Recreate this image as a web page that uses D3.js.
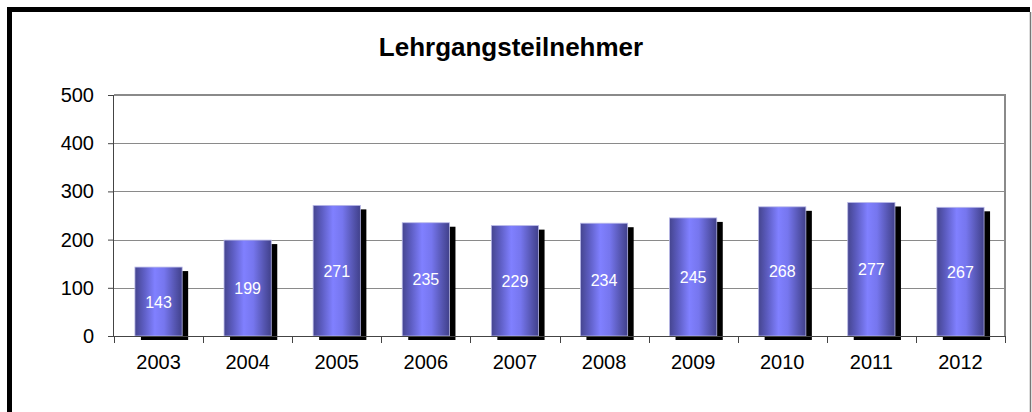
<!DOCTYPE html>
<html>
<head>
<meta charset="utf-8">
<script src="https://cdn.jsdelivr.net/npm/d3@7/dist/d3.min.js"></script>
<style>
  html, body { margin: 0; padding: 0; background: #fff; }
  svg { display: block; }
</style>
</head>
<body>
<svg id="chart" width="1032" height="412"></svg>
<script>
// Participants per year
const years = ["2003", "2004", "2005", "2006", "2007", "2008", "2009", "2010", "2011", "2012"];
const participants = [143, 199, 271, 235, 229, 234, 245, 268, 277, 267];
const yTicks = [0, 100, 200, 300, 400, 500];
const title = "Lehrgangsteilnehmer";

const W = 1032, H = 412;
const plot = { left: 114, right: 1005, top: 95, bottom: 336 };
const FONT = "Liberation Sans, Arial, Helvetica, sans-serif";

const svg = d3.select("#chart");

// Cylinder-like shading for the bars
const defs = svg.append("defs");
const grad = defs.append("linearGradient").attr("id", "barGrad")
  .attr("x1", "0%").attr("x2", "100%").attr("y1", "0%").attr("y2", "0%");
grad.append("stop").attr("offset", "0%").attr("stop-color", "#45458f");
grad.append("stop").attr("offset", "18%").attr("stop-color", "#5c5cc0");
grad.append("stop").attr("offset", "42%").attr("stop-color", "#8080ff");
grad.append("stop").attr("offset", "62%").attr("stop-color", "#7676ee");
grad.append("stop").attr("offset", "85%").attr("stop-color", "#5555b0");
grad.append("stop").attr("offset", "100%").attr("stop-color", "#40408a");

// Outer frame
svg.append("line").attr("x1", 9.5).attr("x2", 9.5).attr("y1", 7).attr("y2", H)
  .attr("stroke", "#000").attr("stroke-width", 5);
svg.append("line").attr("x1", 7).attr("x2", 1030).attr("y1", 9.5).attr("y2", 9.5)
  .attr("stroke", "#000").attr("stroke-width", 5);
svg.append("line").attr("x1", 1030.5).attr("x2", 1030.5).attr("y1", 12).attr("y2", H)
  .attr("stroke", "#777").attr("stroke-width", 1.5);

// Title
svg.append("text")
  .attr("x", 511).attr("y", 56)
  .attr("text-anchor", "middle")
  .attr("font-family", FONT)
  .attr("font-weight", "bold")
  .attr("font-size", 26)
  .attr("fill", "#000")
  .text(title);

const x = d3.scaleBand().domain(years).range([plot.left, plot.right]).paddingInner(0.47).paddingOuter(0.235);
const xEdges = d3.scaleLinear().domain([0, years.length]).range([plot.left, plot.right]);
const y = d3.scaleLinear().domain([0, 500]).range([plot.bottom, plot.top]);

// Gridlines
svg.append("g").selectAll("line").data(yTicks.filter(t => t > 0 && t < 500)).join("line")
  .attr("x1", plot.left).attr("x2", plot.right)
  .attr("y1", d => Math.round(y(d)) + 0.5).attr("y2", d => Math.round(y(d)) + 0.5)
  .attr("stroke", "#8a8a8a").attr("stroke-width", 1.2);

// Plot frame: top and right in grey
svg.append("line").attr("x1", plot.left).attr("x2", plot.right + 1)
  .attr("y1", plot.top).attr("y2", plot.top)
  .attr("stroke", "#8a8a8a").attr("stroke-width", 2);
svg.append("line").attr("x1", plot.right).attr("x2", plot.right)
  .attr("y1", plot.top).attr("y2", plot.bottom)
  .attr("stroke", "#8a8a8a").attr("stroke-width", 2);

// Shadows
const dx = 6, dy = 4;
svg.append("g").selectAll("rect").data(years).join("rect")
  .attr("x", d => x(d) + dx)
  .attr("y", (d, i) => y(participants[i]) + dy)
  .attr("width", x.bandwidth())
  .attr("height", (d, i) => plot.bottom - y(participants[i]))
  .attr("fill", "#000");

// Bars
svg.append("g").selectAll("rect").data(years).join("rect")
  .attr("x", d => x(d))
  .attr("y", (d, i) => y(participants[i]))
  .attr("width", x.bandwidth())
  .attr("height", (d, i) => plot.bottom - y(participants[i]))
  .attr("fill", "url(#barGrad)")
  .attr("stroke", "#b8b8e8").attr("stroke-width", 0.8);

// Value labels
svg.append("g").selectAll("text").data(years).join("text")
  .attr("x", d => x(d) + x.bandwidth() / 2)
  .attr("y", (d, i) => (y(participants[i]) + plot.bottom) / 2 + 6)
  .attr("text-anchor", "middle")
  .attr("font-family", FONT)
  .attr("font-size", 16)
  .attr("fill", "#fff")
  .text((d, i) => participants[i]);

// Y axis
const yAxis = svg.append("g").attr("transform", `translate(${plot.left},0)`)
  .call(d3.axisLeft(y).tickValues(yTicks).tickSize(6).tickPadding(14));
yAxis.select(".domain").attr("stroke", "#444").attr("d", `M-0.5,${plot.bottom}V${plot.top}`);
yAxis.selectAll(".tick line").attr("stroke", "#444");
yAxis.selectAll("text").attr("font-family", FONT)
  .attr("font-size", 20).attr("fill", "#000");

// X axis with ticks at category boundaries
const xAxis = svg.append("g");
xAxis.append("line").attr("x1", plot.left).attr("x2", plot.right)
  .attr("y1", plot.bottom + 0.5).attr("y2", plot.bottom + 0.5).attr("stroke", "#444");
xAxis.selectAll("line.tk").data(d3.range(years.length + 1)).join("line").attr("class", "tk")
  .attr("x1", d => Math.round(xEdges(d)) + 0.5).attr("x2", d => Math.round(xEdges(d)) + 0.5)
  .attr("y1", plot.bottom).attr("y2", plot.bottom + 7).attr("stroke", "#444");
xAxis.selectAll("text.lbl").data(years).join("text").attr("class", "lbl")
  .attr("x", d => x(d) + x.bandwidth() / 2)
  .attr("y", 369)
  .attr("text-anchor", "middle")
  .attr("font-family", FONT)
  .attr("font-size", 20)
  .attr("fill", "#000")
  .text(d => d);
</script>
</body>
</html>
